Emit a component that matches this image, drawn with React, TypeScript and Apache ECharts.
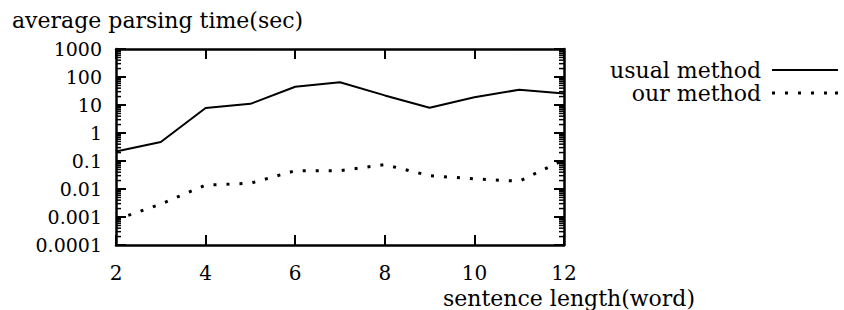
import React, { useEffect, useRef } from "react";
import * as echarts from "echarts";

const sentenceLength = [2, 3, 4, 5, 6, 7, 8, 9, 10, 11, 12];
const usualMethod = [0.22, 0.48, 7.8, 11, 45, 65, 22, 8, 19, 35, 26];
const ourMethod = [0.0008, 0.0029, 0.0138, 0.016, 0.045, 0.045, 0.074, 0.03, 0.023, 0.019, 0.11];
const yTickLabels = ["0.0001", "0.001", "0.01", "0.1", "1", "10", "100", "1000"];
const xTicks = [2, 4, 6, 8, 10, 12];
const minorMultipliers = [2, 3, 4, 5, 6, 7, 8, 9];
const decades = [-4, -3, -2, -1, 0, 1, 2];

const FONT = "DejaVu Serif";

const solidIcon = "path://M0,0h66v2h-66z";
const dottedIcon =
  "path://M0,0h3v3h-3z M13,0h3v3h-3z M26,0h3v3h-3z M39,0h3v3h-3z M52,0h3v3h-3z M63,0h3v3h-3z";

export default function App() {
  const ref = useRef<HTMLDivElement>(null);
  useEffect(() => {
    if (!ref.current) return;
    const chart = echarts.init(ref.current, undefined, { renderer: "svg" });
    const minorVals: number[][] = [];
    decades.forEach((d) => minorMultipliers.forEach((m) => minorVals.push([2, m * Math.pow(10, d)])));
    const left = 116, top = 49, right = 844 - 564, bottom = 310 - 245;
    const axisLine = { show: true, lineStyle: { color: "#000", width: 2.5 } };
    const tick = { show: true, inside: true, length: 10, lineStyle: { color: "#000", width: 2 } };
    const legendText = { fontFamily: FONT, fontSize: 22, lineHeight: 22, color: "#000", padding: [0, 6, 0, 0] };
    chart.setOption({
      animation: false,
      backgroundColor: "#fff",
      grid: { left, top, right, bottom, containLabel: false },
      xAxis: [
        {
          type: "value", min: 2, max: 12, interval: 2, position: "bottom",
          axisLine, axisTick: tick, splitLine: { show: false },
          axisLabel: {
            color: "#000", fontFamily: FONT, fontSize: 20, margin: 18,
            formatter: (v: number) => (xTicks.includes(v) ? String(v) : ""),
          },
        },
        {
          type: "value", min: 2, max: 12, interval: 2, position: "top",
          axisLine, axisTick: tick, splitLine: { show: false }, axisLabel: { show: false },
        },
      ],
      yAxis: [
        {
          type: "log", logBase: 10, min: 0.0001, max: 1000, position: "left",
          axisLine, axisTick: tick, splitLine: { show: false }, minorTick: { show: false },
          axisLabel: {
            color: "#000", fontFamily: FONT, fontSize: 19, margin: 14,
            formatter: (v: number) => {
              const found = yTickLabels.find((s) => Math.abs(Number(s) - v) / v < 1e-6);
              return found || "";
            },
          },
        },
        {
          type: "log", logBase: 10, min: 0.0001, max: 1000, position: "right",
          axisLine, axisTick: tick, splitLine: { show: false }, axisLabel: { show: false },
        },
      ],
      legend: [
        {
          data: [{ name: "usual method", icon: solidIcon }], right: 6, top: 59, orient: "vertical", align: "right",
          padding: 0, itemWidth: 66, itemHeight: 2, textStyle: legendText,
        },
        {
          data: [{ name: "our method", icon: dottedIcon }], right: 6, top: 82, orient: "vertical", align: "right",
          padding: 0, itemWidth: 66, itemHeight: 3, textStyle: legendText,
        },
      ],
      graphic: [
        {
          type: "text", x: 12, y: 20,
          style: { text: "average parsing time(sec)", font: "22px DejaVu Serif", fill: "#000", textVerticalAlign: "middle", textAlign: "left" },
        },
        {
          type: "text", x: 443, y: 298,
          style: { text: "sentence length(word)", font: "22px DejaVu Serif", fill: "#000", textVerticalAlign: "middle", textAlign: "left" },
        },
      ],
      series: [
        {
          name: "usual method", type: "line", xAxisIndex: 0, yAxisIndex: 0,
          data: sentenceLength.map((x, i) => [x, usualMethod[i]]),
          symbol: "none", showSymbol: false,
          lineStyle: { color: "#000", width: 2 }, itemStyle: { color: "#000" },
        },
        {
          name: "our method", type: "line", xAxisIndex: 0, yAxisIndex: 0,
          data: sentenceLength.map((x, i) => [x, ourMethod[i]]),
          symbol: "none", showSymbol: false,
          lineStyle: { color: "#000", width: 3, type: [3, 10], cap: "butt" }, itemStyle: { color: "#000" },
        },
        {
          name: "minor", type: "custom", xAxisIndex: 0, yAxisIndex: 0, silent: true,
          data: minorVals,
          renderItem: (params: any, api: any) => {
            const v = api.value(1);
            const p1 = api.coord([2, v]);
            const p2 = api.coord([12, v]);
            return {
              type: "group",
              children: [
                { type: "line", shape: { x1: p1[0], y1: p1[1], x2: p1[0] + 5, y2: p1[1] }, style: { stroke: "#000", lineWidth: 1.5 } },
                { type: "line", shape: { x1: p2[0] - 5, y1: p2[1], x2: p2[0], y2: p2[1] }, style: { stroke: "#000", lineWidth: 1.5 } },
              ],
            };
          },
        },
      ],
    });
    return () => chart.dispose();
  }, []);
  return <div ref={ref} style={{ width: 844, height: 310, position: "absolute", left: 0, top: 0 }} />;
}
